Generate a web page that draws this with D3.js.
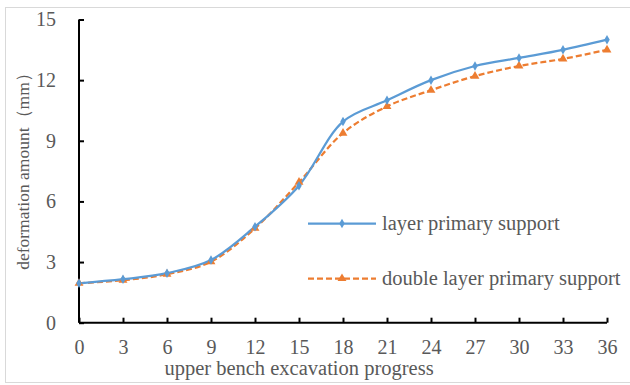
<!DOCTYPE html>
<html>
<head>
<meta charset="utf-8">
<script src="https://cdn.jsdelivr.net/npm/d3@7/dist/d3.min.js"></script>
<style>
  html, body { margin: 0; padding: 0; background: #fff; }
  svg { display: block; }
  text { font-family: "Liberation Serif", "Times New Roman", serif; fill: #595959; }
</style>
</head>
<body>
<svg id="chart" width="630" height="385"></svg>
<script>
// Excavation steps and monitored deformation (mm)
const progress = [0, 3, 6, 9, 12, 15, 18, 21, 24, 27, 30, 33, 36];
const singleLayer = [1.95, 2.15, 2.45, 3.1, 4.75, 6.78, 9.95, 11.0, 12.0, 12.7, 13.1, 13.5, 14.0];
const doubleLayer = [1.95, 2.1, 2.4, 3.02, 4.67, 6.95, 9.38, 10.7, 11.5, 12.2, 12.7, 13.05, 13.5];
const xTicks = [0, 3, 6, 9, 12, 15, 18, 21, 24, 27, 30, 33, 36];
const yTicks = [0, 3, 6, 9, 12, 15];
const seriesNames = ["layer primary support", "double layer primary support"];
const seriesColors = ["#5B9BD5", "#ED7D31"];

const svg = d3.select("#chart");
const W = 630;
const plot = { left: 79, right: 607, top: 19.5, bottom: 322.7 };

// outer chart frame
svg.append("rect")
  .attr("x", 5.5).attr("y", 7.5)
  .attr("width", W + 10).attr("height", 375)
  .attr("fill", "#fff").attr("stroke", "#d9d9d9").attr("stroke-width", 1);

const x = d3.scaleLinear().domain([0, 36]).range([plot.left, plot.right]);
const y = d3.scaleLinear().domain([0, 15]).range([plot.bottom, plot.top]);

// axes: ticks point into the plot area
const xAxis = d3.axisBottom(x).tickValues(xTicks).tickSize(-5).tickPadding(17).tickFormat(d3.format("d"));
const yAxis = d3.axisLeft(y).tickValues(yTicks).tickSize(-5).tickPadding(23).tickFormat(d3.format("d"));

const gx = svg.append("g").attr("transform", `translate(0,${plot.bottom})`).call(xAxis);
const gy = svg.append("g").attr("transform", `translate(${plot.left},0)`).call(yAxis);
[gx, gy].forEach(g => {
  g.select(".domain").attr("stroke", "#000").attr("stroke-width", 2);
  g.selectAll(".tick line").attr("stroke", "#000").attr("stroke-width", 2);
  g.selectAll(".tick text").attr("font-size", 20)
    .attr("font-family", "Liberation Serif, Times New Roman, serif").attr("fill", "#595959");
});
gx.select(".domain").attr("d", `M${plot.left},0H${plot.right}`);
gy.select(".domain").attr("d", `M0,${plot.bottom}V${plot.top}`);
gx.selectAll(".tick text").attr("dy", "0.71em");

// axis titles
svg.append("text")
  .attr("x", 299).attr("y", 375)
  .attr("text-anchor", "middle").attr("font-size", 20.5)
  .text("upper bench excavation progress");
svg.append("text")
  .attr("transform", "translate(29,167) rotate(-90)")
  .attr("text-anchor", "middle").attr("font-size", 17.5)
  .text("deformation amount（mm）");

const line = d3.line()
  .x((d, i) => x(progress[i]))
  .y(d => y(d))
  .curve(d3.curveCatmullRom.alpha(0.5));

// double-layer series (dashed, triangles)
svg.append("path").datum(doubleLayer)
  .attr("d", line).attr("fill", "none")
  .attr("stroke", seriesColors[1]).attr("stroke-width", 2.25)
  .attr("stroke-dasharray", "6,3");

// single-layer series (solid, diamonds)
svg.append("path").datum(singleLayer)
  .attr("d", line).attr("fill", "none")
  .attr("stroke", seriesColors[0]).attr("stroke-width", 2.25);

const tri = d3.symbol().type(d3.symbolTriangle).size(34);
const dia = d3.symbol().type(d3.symbolDiamond).size(26);

svg.append("g").selectAll("path").data(doubleLayer).join("path")
  .attr("d", tri)
  .attr("transform", (d, i) => `translate(${x(progress[i])},${y(d)})`)
  .attr("fill", seriesColors[1]);

svg.append("g").selectAll("path").data(singleLayer).join("path")
  .attr("d", dia)
  .attr("transform", (d, i) => `translate(${x(progress[i])},${y(d)})`)
  .attr("fill", seriesColors[0]);

// legend
const legend = svg.append("g");
const legendY = [223.5, 278.5];
seriesNames.forEach((name, i) => {
  const g = legend.append("g").attr("transform", `translate(0,${legendY[i]})`);
  g.append("line")
    .attr("x1", 308).attr("x2", 376).attr("y1", 0).attr("y2", 0)
    .attr("stroke", seriesColors[i]).attr("stroke-width", 2.25)
    .attr("stroke-dasharray", i === 1 ? "6,3" : null);
  g.append("path")
    .attr("d", i === 1 ? tri : dia)
    .attr("transform", "translate(342,0)")
    .attr("fill", seriesColors[i]);
  g.append("text")
    .attr("x", 382).attr("y", 0).attr("dy", "0.32em")
    .attr("font-size", 20.5)
    .text(name);
});
</script>
</body>
</html>
